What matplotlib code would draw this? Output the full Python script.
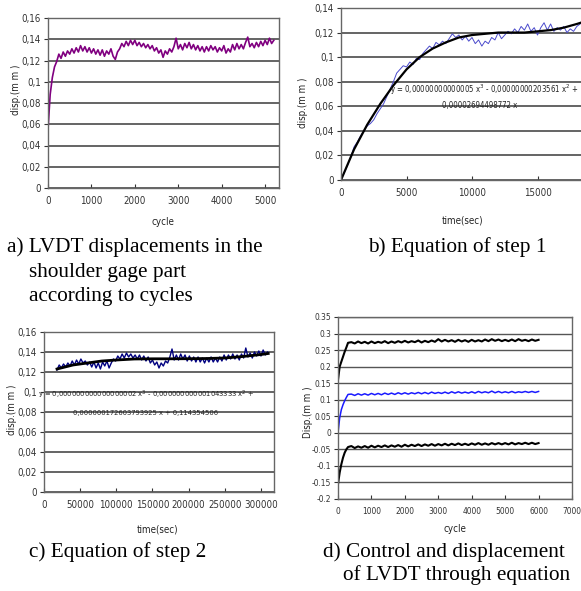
import numpy as np
import matplotlib
matplotlib.use('Agg')
import matplotlib.pyplot as plt

# Figure size in pixels
W, H = 581, 591

# ---- data: a) LVDT displacement vs cycle ----
cycle_a = np.arange(0, 5201, 50)
disp_a = [0.055, 0.088, 0.104, 0.114, 0.119, 0.126, 0.122, 0.128, 0.124, 0.129,
          0.126, 0.131, 0.127, 0.132, 0.128, 0.134, 0.129, 0.133, 0.128, 0.132,
          0.127, 0.131, 0.126, 0.130, 0.125, 0.130, 0.124, 0.129, 0.126, 0.131,
          0.124, 0.121, 0.128, 0.131, 0.136, 0.133, 0.138, 0.134, 0.139, 0.135,
          0.139, 0.134, 0.137, 0.133, 0.136, 0.132, 0.135, 0.131, 0.134, 0.129,
          0.132, 0.127, 0.130, 0.123, 0.129, 0.126, 0.131, 0.128, 0.133, 0.141,
          0.131, 0.135, 0.130, 0.136, 0.132, 0.137, 0.131, 0.135, 0.130, 0.134,
          0.129, 0.133, 0.128, 0.133, 0.129, 0.134, 0.130, 0.133, 0.128, 0.132,
          0.129, 0.134, 0.127, 0.131, 0.128, 0.135, 0.130, 0.136, 0.131, 0.135,
          0.131, 0.137, 0.142, 0.133, 0.136, 0.132, 0.137, 0.133, 0.138, 0.134,
          0.139, 0.135, 0.141, 0.136, 0.139]

# ---- data: b) step 1 ----
time_b = np.arange(0, 18251, 250)
disp_b = [0.0, 0.006, 0.012, 0.019, 0.027, 0.031, 0.036, 0.040, 0.044, 0.046,
          0.049, 0.054, 0.058, 0.062, 0.068, 0.074, 0.080, 0.087, 0.090, 0.093,
          0.092, 0.096, 0.094, 0.099, 0.098, 0.103, 0.106, 0.109, 0.107, 0.112,
          0.110, 0.113, 0.111, 0.115, 0.119, 0.116, 0.118, 0.114, 0.117, 0.113,
          0.116, 0.111, 0.114, 0.109, 0.113, 0.111, 0.116, 0.114, 0.120, 0.115,
          0.118, 0.121, 0.119, 0.123, 0.120, 0.125, 0.122, 0.127, 0.121, 0.124,
          0.118, 0.124, 0.128, 0.122, 0.127, 0.121, 0.124, 0.122, 0.125, 0.120,
          0.123, 0.121, 0.125, 0.127]
fit_time_b = [0, 1000, 2000, 3000, 4000, 5000, 6000, 7000, 8000, 9000, 10000,
              11000, 12000, 13000, 14000, 15000, 16000, 17000, 18000, 18300]
fit_disp_b = [0.0, 0.025, 0.045, 0.062, 0.077, 0.090, 0.100, 0.107, 0.112, 0.116,
              0.118, 0.119, 0.120, 0.120, 0.120, 0.121, 0.122, 0.124, 0.127, 0.128]
eq_b = ['y = 0,00000000000005 x$^3$ - 0,00000000203561 x$^2$ +',
        '0,00002694498772 x']

# ---- data: c) step 2 ----
time_c = np.arange(18000, 309001, 3000)
disp_c = [0.122, 0.127, 0.124, 0.128, 0.125, 0.129, 0.126, 0.131, 0.127, 0.132,
          0.128, 0.133, 0.129, 0.131, 0.127, 0.130, 0.125, 0.130, 0.124, 0.129,
          0.123, 0.130, 0.126, 0.131, 0.124, 0.129, 0.133, 0.131, 0.136, 0.133,
          0.138, 0.134, 0.139, 0.135, 0.138, 0.134, 0.137, 0.133, 0.137, 0.132,
          0.136, 0.131, 0.135, 0.129, 0.132, 0.127, 0.130, 0.124, 0.129, 0.126,
          0.131, 0.129, 0.135, 0.143, 0.132, 0.137, 0.132, 0.138, 0.133, 0.137,
          0.131, 0.136, 0.131, 0.135, 0.130, 0.135, 0.130, 0.134, 0.129, 0.134,
          0.130, 0.135, 0.130, 0.134, 0.130, 0.135, 0.131, 0.137, 0.132, 0.137,
          0.133, 0.138, 0.133, 0.137, 0.132, 0.138, 0.134, 0.144, 0.135, 0.139,
          0.134, 0.140, 0.136, 0.141, 0.136, 0.142, 0.137, 0.140]
fit_time_c = [18000, 40000, 60000, 80000, 100000, 125000, 150000, 175000,
              200000, 225000, 250000, 275000, 300000, 310000]
fit_disp_c = [0.123, 0.127, 0.129, 0.131, 0.132, 0.133, 0.1332, 0.1332,
              0.1333, 0.1335, 0.134, 0.1355, 0.1375, 0.1385]
eq_c = ['y = 0,000000000000000002 x$^3$ - 0,000000000001043333 x$^2$ +',
        '0,000000172603793925 x + 0,114354506']

# ---- data: d) control and displacement ----
cycle_d = [0, 50, 100, 150, 200, 250, 300] + list(range(400, 6001, 100))
upper_d = [0.160, 0.200, 0.215, 0.230, 0.245, 0.258, 0.272,
           0.274, 0.270, 0.276, 0.271, 0.275, 0.270, 0.276, 0.271, 0.275, 0.272,
           0.277, 0.271, 0.276, 0.272, 0.277, 0.273, 0.278, 0.273, 0.277, 0.274,
           0.279, 0.273, 0.278, 0.274, 0.279, 0.275, 0.283, 0.276, 0.281, 0.276,
           0.280, 0.275, 0.281, 0.276, 0.280, 0.275, 0.281, 0.276, 0.280, 0.276,
           0.282, 0.277, 0.283, 0.278, 0.282, 0.277, 0.281, 0.277, 0.282, 0.277,
           0.283, 0.278, 0.281, 0.277, 0.282, 0.278, 0.281]
middle_d = [0.000, 0.045, 0.070, 0.085, 0.097, 0.107, 0.116,
            0.117, 0.113, 0.118, 0.114, 0.118, 0.114, 0.119, 0.115, 0.119, 0.115,
            0.120, 0.116, 0.120, 0.116, 0.121, 0.117, 0.121, 0.117, 0.121, 0.118,
            0.122, 0.118, 0.122, 0.118, 0.123, 0.119, 0.122, 0.119, 0.123, 0.119,
            0.124, 0.120, 0.124, 0.120, 0.123, 0.120, 0.124, 0.120, 0.125, 0.121,
            0.124, 0.121, 0.126, 0.121, 0.125, 0.121, 0.124, 0.121, 0.125, 0.121,
            0.124, 0.122, 0.125, 0.122, 0.125, 0.122, 0.125]
lower_d = [-0.155, -0.120, -0.095, -0.075, -0.060, -0.050, -0.043,
           -0.040, -0.046, -0.041, -0.045, -0.040, -0.045, -0.039, -0.044, -0.039,
           -0.043, -0.038, -0.043, -0.038, -0.042, -0.037, -0.042, -0.036, -0.041,
           -0.036, -0.040, -0.035, -0.040, -0.035, -0.039, -0.034, -0.039, -0.034,
           -0.038, -0.033, -0.038, -0.033, -0.037, -0.032, -0.037, -0.033, -0.037,
           -0.032, -0.036, -0.031, -0.036, -0.032, -0.036, -0.031, -0.035, -0.031,
           -0.035, -0.031, -0.035, -0.030, -0.035, -0.031, -0.034, -0.030, -0.034,
           -0.030, -0.034, -0.031]

# ---- tick labels ----
yt_016 = [0, 0.02, 0.04, 0.06, 0.08, 0.1, 0.12, 0.14, 0.16]
yl_016 = ['0', '0,02', '0,04', '0,06', '0,08', '0,1', '0,12', '0,14', '0,16']
yt_014 = yt_016[:-1]
yl_014 = yl_016[:-1]
xt_a = [0, 1000, 2000, 3000, 4000, 5000]
xt_b = [0, 5000, 10000, 15000]
xt_c = [0, 50000, 100000, 150000, 200000, 250000, 300000]
yt_d = [-0.2, -0.15, -0.1, -0.05, 0, 0.05, 0.1, 0.15, 0.2, 0.25, 0.3, 0.35]
yl_d = ['-0.2', '-0.15', '-0.1', '-0.05', '0', '0.05', '0.1', '0.15', '0.2',
        '0.25', '0.3', '0.35']
xt_d = [0, 1000, 2000, 3000, 4000, 5000, 6000, 7000]

# small condensed sans for axis texts, Times-like serif for captions
SMALL = dict(fontfamily='DejaVu Sans', fontstretch='condensed', color='#222222')
SERIF = dict(fontfamily=['Liberation Serif', 'DejaVu Serif'], fontsize=15.3)
GRID = '#4a4a4a'


def make_axes(x0, y0, x1, y1):
    # pixel box (left, top, right, bottom) -> axes
    return fig.add_axes([x0 / W, 1 - y1 / H, (x1 - x0) / W, (y1 - y0) / H])


def style(ax, yt, yl, xt, size=7):
    ax.set_yticks(yt)
    ax.set_yticklabels(yl, fontsize=size, **SMALL)
    ax.set_xticks(xt)
    ax.set_xticklabels([str(t) for t in xt], fontsize=size, **SMALL)
    ax.yaxis.grid(True, color=GRID, linewidth=1.2)
    ax.set_axisbelow(True)
    ax.tick_params(axis='y', direction='out', length=3, width=0.8, pad=2, colors='#333333')
    ax.tick_params(axis='x', direction='in', length=3, width=0.8, pad=6, colors='#333333')
    for s in ax.spines.values():
        s.set_color('#666666')
        s.set_linewidth(1.0)


def ftext(x, y, s, **kw):
    fig.text(x / W, 1 - y / H, s, **kw)


fig = plt.figure(figsize=(W / 100, H / 100), dpi=100)

# a)
ax_a = make_axes(48, 18, 279, 188)
ax_a.plot(cycle_a, disp_a, color='#800080', linewidth=1.2)
ax_a.set_xlim(0, 5320)
ax_a.set_ylim(0, 0.16)
style(ax_a, yt_016, yl_016, xt_a)
ftext(16, 90, 'disp.(m m )', rotation=90, ha='center', va='center', fontsize=7, **SMALL)
ftext(163, 222, 'cycle', ha='center', va='center', fontsize=7, **SMALL)
ftext(7, 247, 'a) LVDT displacements in the', ha='left', va='center', **SERIF)
ftext(29, 273, 'shoulder gage part', ha='left', va='center', **SERIF)
ftext(29, 297, 'according to cycles', ha='left', va='center', **SERIF)

# b)
ax_b = make_axes(341, 8, 581, 180)
ax_b.plot(time_b, disp_b, color='#4a4acc', linewidth=0.7)
ax_b.plot(fit_time_b, fit_disp_b, color='black', linewidth=1.6)
ax_b.set_xlim(0, 18320)
ax_b.set_ylim(0, 0.14)
style(ax_b, yt_014, yl_014, xt_b)
ax_b.spines['right'].set_visible(False)
ax_b.text(10900, 0.0735, eq_b[0], ha='center', va='center', fontsize=5.6, **SMALL)
ax_b.text(10600, 0.0605, eq_b[1], ha='center', va='center', fontsize=5.6, **SMALL)
ftext(303, 103, 'disp.(m m )', rotation=90, ha='center', va='center', fontsize=7, **SMALL)
ftext(463, 220, 'time(sec)', ha='center', va='center', fontsize=7, **SMALL)
ftext(457, 247, 'b) Equation of step 1', ha='center', va='center', **SERIF)

# c)
ax_c = make_axes(44, 332, 274, 492)
ax_c.plot(time_c, disp_c, color='#000080', linewidth=1.0)
ax_c.plot(fit_time_c, fit_disp_c, color='black', linewidth=2.0)
ax_c.set_xlim(0, 318000)
ax_c.set_ylim(0, 0.16)
style(ax_c, yt_016, yl_016, xt_c)
ax_c.text(141000, 0.0975, eq_c[0], ha='center', va='center', fontsize=5.4, **SMALL)
ax_c.text(141000, 0.0795, eq_c[1], ha='center', va='center', fontsize=5.4, **SMALL)
ftext(12, 410, 'disp.(m m )', rotation=90, ha='center', va='center', fontsize=7, **SMALL)
ftext(158, 529, 'time(sec)', ha='center', va='center', fontsize=7, **SMALL)
ftext(29, 552, 'c) Equation of step 2', ha='left', va='center', **SERIF)

# d)
ax_d = make_axes(338, 317, 572, 499)
ax_d.plot(cycle_d, upper_d, color='black', linewidth=1.5)
ax_d.plot(cycle_d, middle_d, color='#1a1aff', linewidth=1.1)
ax_d.plot(cycle_d, lower_d, color='black', linewidth=1.5)
ax_d.set_xlim(0, 7000)
ax_d.set_ylim(-0.2, 0.35)
style(ax_d, yt_d, yl_d, xt_d, size=6)
ax_d.yaxis.grid(True, color='#555555', linewidth=1.0)
ftext(308, 412, 'Disp.(m m )', rotation=90, ha='center', va='center', fontsize=7, **SMALL)
ftext(455, 529, 'cycle', ha='center', va='center', fontsize=7, **SMALL)
ftext(323, 552, 'd) Control and displacement', ha='left', va='center', **SERIF)
ftext(343, 575, 'of LVDT through equation', ha='left', va='center', **SERIF)

fig.savefig('out.png', dpi=100)
